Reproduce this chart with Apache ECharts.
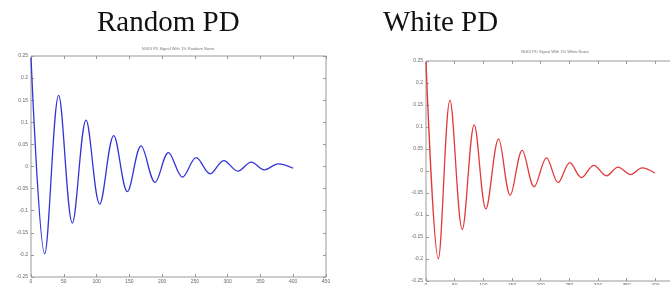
<!DOCTYPE html>
<html>
<head>
<meta charset="utf-8">
<script src="https://cdn.jsdelivr.net/npm/echarts@6/dist/echarts.min.js"></script>
<style>
  html, body { margin: 0; padding: 0; background: #fff; }
  #chart { width: 670px; height: 285px; }
</style>
</head>
<body>
<div id="chart"></div>
<script>
// peaks and troughs
const randomX = [0, 20.9, 42.2, 63.1, 84, 104.8, 126.2, 147, 168, 189.3, 209.7, 231, 252, 273.3, 294, 315.5, 336, 356, 377, 400]
const randomY = [0.246, -0.197, 0.161, -0.128, 0.105, -0.085, 0.07, -0.057, 0.0465, -0.036, 0.0315, -0.024, 0.02, -0.0165, 0.0135, -0.0105, 0.0098, -0.0075, 0.006, -0.004]

const whiteX = [0, 21.5, 41.8, 63.3, 84.2, 104.5, 126.6, 146.9, 167.8, 188.7, 210.2, 230.5, 250.9, 271.2, 292.7, 314.7, 335, 357, 376.9, 399]
const whiteY = [0.248, -0.199, 0.161, -0.133, 0.105, -0.086, 0.073, -0.055, 0.047, -0.036, 0.03, -0.0265, 0.019, -0.015, 0.013, -0.011, 0.009, -0.008, 0.007, -0.0045]

const xTicks = { min: 0, max: 450, interval: 50 }
const yTicks = { min: -0.25, max: 0.25, interval: 0.05 }

const chart = echarts.init(document.getElementById("chart"))

const frame = "#9a9a9a"
const tickFont = { fontSize: 5, color: "#666", fontFamily: "Arial" }

function xAxisFor(gridIndex, position, showLabels) {
  return {
    type: "value",
    gridIndex,
    position,
    ...xTicks,
    axisLine: { show: false, onZero: false },
    axisTick: { show: true, inside: true, length: 3, lineStyle: { color: frame } },
    axisLabel: { show: showLabels, margin: 2, ...tickFont },
    splitLine: { show: false },
  }
}

function yAxisFor(gridIndex, position, showLabels) {
  return {
    type: "value",
    gridIndex,
    position,
    ...yTicks,
    axisLine: { show: false, onZero: false },
    axisTick: { show: true, inside: true, length: 3, lineStyle: { color: frame } },
    axisLabel: { show: showLabels, margin: 3, ...tickFont },
    splitLine: { show: false },
  }
}

const bigTitle = { fontFamily: "Liberation Serif", fontSize: 29, fontWeight: "normal", color: "#111" }
const smallTitle = { fontSize: 4, fontWeight: "normal", color: "#777", fontFamily: "Arial" }

const option = {
  backgroundColor: "#fff",
  animation: false,
  title: [
    { text: "Random PD", left: 97, top: 9, padding: 0, textStyle: bigTitle },
    { text: "White PD", left: 383, top: 9, padding: 0, textStyle: bigTitle },
    { text: "NGDI PD Signal With 1% Random Noise", left: 178, textAlign: "center", top: 47, padding: 0, textStyle: smallTitle },
    { text: "NGDI PD Signal With 1% White Noise", left: 555, textAlign: "center", top: 50, padding: 0, textStyle: smallTitle },
  ],
  grid: [
    { left: 31, top: 56, right: 344, bottom: 8, outerBoundsMode: "none", show: true, borderColor: frame, borderWidth: 1 },
    // right panel runs past the edge of the picture, as in the source image
    { left: 426, top: 61, right: -14, bottom: 4, outerBoundsMode: "none", show: true, borderColor: frame, borderWidth: 1 },
  ],
  xAxis: [
    xAxisFor(0, "bottom", true),
    xAxisFor(0, "top", false),
    xAxisFor(1, "bottom", true),
    xAxisFor(1, "top", false),
  ],
  yAxis: [
    yAxisFor(0, "left", true),
    yAxisFor(0, "right", false),
    yAxisFor(1, "left", true),
    yAxisFor(1, "right", false),
  ],
  series: [
    {
      type: "line",
      xAxisIndex: 0,
      yAxisIndex: 0,
      data: randomX.map((x, i) => [x, randomY[i]]),
      smooth: 0.35,
      showSymbol: false,
      lineStyle: { color: "#3434d6", width: 1.3 },
    },
    {
      type: "line",
      xAxisIndex: 2,
      yAxisIndex: 2,
      data: whiteX.map((x, i) => [x, whiteY[i]]),
      smooth: 0.35,
      showSymbol: false,
      lineStyle: { color: "#e23a3a", width: 1.3 },
    },
  ],
}

chart.setOption(option)
</script>
</body>
</html>
